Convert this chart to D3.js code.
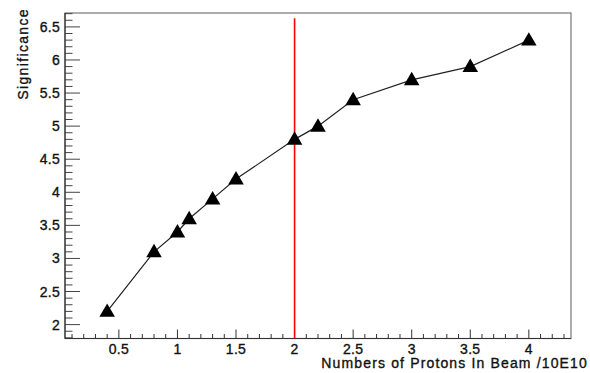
<!DOCTYPE html>
<html><head><meta charset="utf-8">
<script src="https://cdn.jsdelivr.net/npm/d3@7"></script>
<style>html,body{margin:0;padding:0;background:#fff;}svg{display:block;font-family:"Liberation Sans",Arial,sans-serif;}</style>
</head><body>
<svg id="c" width="590" height="373"></svg>
<script>
const protons = [0.4, 0.8, 1.0, 1.1, 1.3, 1.5, 2.0, 2.2, 2.5, 3.0, 3.5, 4.0];
const significance = [2.2, 3.1, 3.4, 3.6, 3.9, 4.2, 4.8, 5.0, 5.4, 5.7, 5.9, 6.3];
const xTicks = [0.5, 1, 1.5, 2, 2.5, 3, 3.5, 4];
const yTicks = [2, 2.5, 3, 3.5, 4, 4.5, 5, 5.5, 6, 6.5];
const xDomain = [0.04, 4.36];
const yDomain = [1.79, 6.71];
const cutX = 2.0;
const cutTop = 6.63;
const xTitle = "Numbers of Protons In Beam /10E10";
const yTitle = "Significance";

const svg = d3.select("#c");
const L = 65, R = 571, T = 13, B = 338.5;
const x = d3.scaleLinear().domain(xDomain).range([L, R]);
const y = d3.scaleLinear().domain(yDomain).range([B, T]);

// frame
svg.append("rect").attr("x", L).attr("y", T).attr("width", R - L).attr("height", B - T)
  .attr("fill", "none").attr("stroke", "#777").attr("stroke-width", 1.2);

// minor ticks
const xMinor = d3.range(Math.ceil(xDomain[0] * 10), Math.floor(xDomain[1] * 10) + 1).map(v => v / 10);
const yMinor = d3.range(Math.ceil(yDomain[0] * 10), Math.floor(yDomain[1] * 10) + 1).map(v => v / 10);

svg.append("g").selectAll("line").data(xMinor).join("line")
  .attr("x1", d => x(d)).attr("x2", d => x(d))
  .attr("y1", B).attr("y2", d => B - (xTicks.some(t => Math.abs(t - d) < 1e-6) ? 9 : 4.5))
  .attr("stroke", "#333").attr("stroke-width", 1);
svg.append("g").selectAll("line").data(yMinor).join("line")
  .attr("y1", d => y(d)).attr("y2", d => y(d))
  .attr("x1", L).attr("x2", d => L + (yTicks.some(t => Math.abs(t - d) < 1e-6) ? 15 : 7.5))
  .attr("stroke", "#444").attr("stroke-width", 1);

// axis lines
svg.append("line").attr("x1", L).attr("x2", R).attr("y1", B).attr("y2", B).attr("stroke", "#333").attr("stroke-width", 1.2);
svg.append("line").attr("x1", L).attr("x2", L).attr("y1", T).attr("y2", B).attr("stroke", "#333").attr("stroke-width", 1.2);

// tick labels
const txt = sel => sel.attr("fill", "#111").attr("stroke", "#111").attr("stroke-width", 0.35);
svg.append("g").selectAll("text").data(xTicks).join("text")
  .attr("x", d => x(d)).attr("y", 354).attr("text-anchor", "middle")
  .attr("font-size", 14).attr("letter-spacing", 0.3)
  .call(txt)
  .text(d => d3.format("")(d));
svg.append("g").selectAll("text").data(yTicks).join("text")
  .attr("x", 60).attr("y", d => y(d)).attr("dy", "0.36em").attr("text-anchor", "end")
  .attr("font-size", 14).attr("letter-spacing", 0.3)
  .call(txt)
  .text(d => d3.format("")(d));

// titles
svg.append("text").attr("x", 588).attr("y", 368).attr("text-anchor", "end")
  .attr("font-size", 14).attr("letter-spacing", 1.15).call(txt).text(xTitle);
svg.append("text").attr("transform", "translate(28,8) rotate(-90)").attr("text-anchor", "end")
  .attr("font-size", 14).attr("letter-spacing", 1.35).call(txt).text(yTitle);

// line
const pts = protons.map((p, i) => [p, significance[i]]);
svg.append("path").datum(pts)
  .attr("d", d3.line().x(d => x(d[0])).y(d => y(d[1])))
  .attr("fill", "none").attr("stroke", "#222").attr("stroke-width", 1.2);

// red cut line
svg.append("line").attr("x1", x(cutX)).attr("x2", x(cutX)).attr("y1", y(cutTop)).attr("y2", B)
  .attr("stroke", "#ff0000").attr("stroke-width", 1.6);

// markers
const tri = d3.symbol(d3.symbolTriangle).size(105);
svg.append("g").selectAll("path").data(pts).join("path")
  .attr("d", tri).attr("transform", d => `translate(${x(d[0])},${y(d[1]) + 1})`)
  .attr("fill", "#000");
</script>
</body></html>
